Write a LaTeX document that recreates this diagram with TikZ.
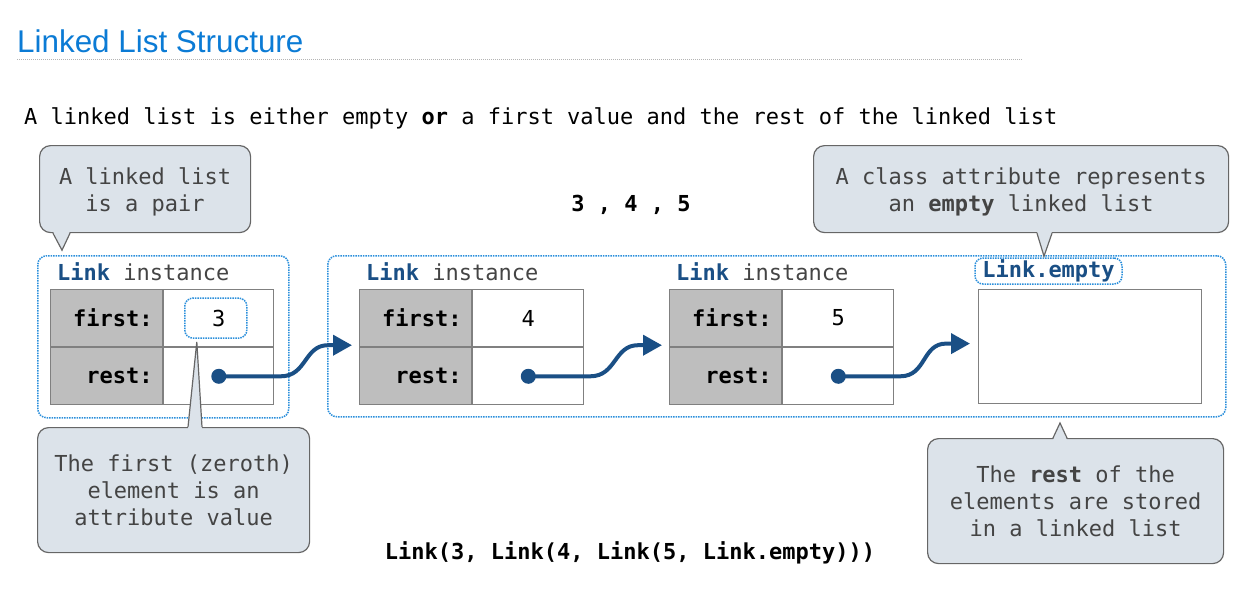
\documentclass[tikz,border=0pt]{standalone}
\usepackage{fontspec}
\setmainfont{Liberation Sans}
\setmonofont{DejaVu Sans Mono}
\usetikzlibrary{arrows.meta,calc}

\definecolor{titleblue}{HTML}{0B7BD5}
\definecolor{linkblue}{HTML}{1A4F85}
\definecolor{dotblue}{HTML}{2B8FDB}
\definecolor{calloutfill}{HTML}{DCE3EA}
\definecolor{calloutdraw}{HTML}{666666}
\definecolor{cellgray}{HTML}{BEBEBE}
\definecolor{cellline}{HTML}{808080}
\definecolor{notetext}{HTML}{444444}
\definecolor{rulegray}{HTML}{B4B4B4}

\newcommand\codesize{\ttfamily\fontsize{22}{27}\selectfont}

\tikzset{
  note/.style={draw=calloutdraw, fill=calloutfill, rounded corners=11pt,
    line width=1.2pt, inner sep=0pt, anchor=north west},
  notetxt/.style={align=center, font=\codesize, text=notetext, inner sep=0pt},
  frame/.style={draw=dotblue, densely dotted, line width=1.5pt,
    rounded corners=9pt, inner sep=0pt, anchor=north west},
  labcell/.style={draw=cellline, fill=cellgray, line width=1.2pt,
    minimum height=57pt, text width=92pt, inner xsep=10pt, inner ysep=0pt,
    align=right, font=\codesize\bfseries, anchor=north west},
  valcell/.style={draw=cellline, fill=white, line width=1.2pt,
    minimum height=57pt, minimum width=110pt, inner sep=0pt,
    font=\codesize, anchor=north west},
  dot/.style={circle, fill=linkblue, minimum size=15pt, inner sep=0pt},
  ptr/.style={draw=linkblue, line width=4pt,
    -{Triangle[length=19pt,width=20pt]}},
  tagline/.style={anchor=base west, font=\codesize, inner sep=0pt},
  pointer/.style={draw=calloutdraw, line width=1.2pt, line join=miter},
}

\begin{document}
\begin{tikzpicture}[x=1pt,y=-1pt]
\useasboundingbox (0,0) rectangle (1251,616);

% heading and rule
\node[anchor=base west, inner sep=0pt, text=titleblue,
  font=\fontsize{31.4}{36}\selectfont] (title) at (17,52) {Linked List Structure};
\draw[rulegray, densely dotted, line width=1pt] (17,59) -- (1022,59);

% definition sentence
\node[anchor=base west, inner sep=0pt, font=\codesize] (definition) at (24,124)
  {A linked list is either empty \textbf{or} a first value and the rest of the linked list};

% sequence and constructor expression
\node[font=\codesize\bfseries, inner sep=0pt] (seq) at (631,205) {3 , 4 , 5};
\node[font=\codesize\bfseries, inner sep=0pt] (expr) at (630,553)
  {Link(3, Link(4, Link(5, Link.empty)))};

% instance frames
\node[frame, minimum width=251pt, minimum height=162pt] (f1) at (37,255) {};
\node[frame, minimum width=898pt, minimum height=161pt] (f2) at (327,255) {};

% frame captions
\node[tagline] (cap1) at (57,280) {\textcolor{linkblue}{\bfseries Link} \textcolor{notetext}{instance}};
\node[tagline] (cap2) at (366,280) {\textcolor{linkblue}{\bfseries Link} \textcolor{notetext}{instance}};
\node[tagline] (cap3) at (676,280) {\textcolor{linkblue}{\bfseries Link} \textcolor{notetext}{instance}};
\node[draw=dotblue, densely dotted, line width=1.5pt, rounded corners=8pt,
  minimum width=147pt, minimum height=26pt, inner sep=0pt,
  font=\codesize\bfseries, text=linkblue] (emptytag) at (1048.5,271) {Link.empty};

% first Link instance
\node[labcell] (t1a) at (50,289) {first:};
\node[valcell] (t1b) at (t1a.north east) {3};
\node[labcell] (t1c) at (t1a.south west) {rest:};
\node[valcell] (t1d) at (t1c.north east) {};
\node[draw=dotblue, densely dotted, line width=1.5pt, rounded corners=8pt,
  minimum width=62pt, minimum height=40pt, inner sep=0pt] (v3) at ($(t1b.center)+(-3,0)$) {};

% second Link instance
\node[labcell] (t2a) at (359,289) {first:};
\node[valcell, minimum width=111pt] (t2b) at (t2a.north east) {4};
\node[labcell] (t2c) at (t2a.south west) {rest:};
\node[valcell, minimum width=111pt] (t2d) at (t2c.north east) {};

% third Link instance
\node[labcell] (t3a) at (669,289) {first:};
\node[valcell, minimum width=111pt] (t3b) at (t3a.north east) {5};
\node[labcell] (t3c) at (t3a.south west) {rest:};
\node[valcell, minimum width=111pt] (t3d) at (t3c.north east) {};

% the empty list
\node[draw=cellline, fill=white, line width=1.2pt, minimum width=223pt,
  minimum height=114pt, inner sep=0pt, anchor=north west] (emptybox) at (978,289) {};

% rest pointers
\node[dot] (d1) at (t1d.center) {};
\node[dot] (d2) at (t2d.center) {};
\node[dot] (d3) at (t3d.center) {};
\coordinate (in2) at ($(t2a.south west)+(-7,-2)$);
\coordinate (in3) at ($(t3a.south west)+(-7,-2)$);
\coordinate (in4) at ($(emptybox.west)+(-8,-3)$);
\draw[ptr] (d1.center) -- ++(62,0) .. controls +(26,0) and +(-24,0) .. ($(in2)+(-24,0)$) -- (in2);
\draw[ptr] (d2.center) -- ++(62,0) .. controls +(26,0) and +(-24,0) .. ($(in3)+(-24,0)$) -- (in3);
\draw[ptr] (d3.center) -- ++(62,0) .. controls +(26,0) and +(-24,0) .. ($(in4)+(-24,0)$) -- (in4);

% callout: a linked list is a pair
\node[note, minimum width=211pt, minimum height=87pt] (n1) at (39,145) {};
\fill[calloutfill] ($(n1.south west)+(14,-2)$) -- ($(n1.south west)+(23,17)$) -- ($(n1.south west)+(31,-2)$) -- cycle;
\draw[pointer] ($(n1.south west)+(14,0)$) -- ($(n1.south west)+(23,17)$) -- ($(n1.south west)+(31,0)$);
\node[notetxt] (n1t) at ($(n1.center)+(0,3)$) {A linked list\\is a pair};

% callout: the empty class attribute
\node[note, minimum width=415pt, minimum height=87pt] (n2) at (813,145) {};
\fill[calloutfill] ($(n2.south west)+(224,-2)$) -- ($(n2.south west)+(231,23)$) -- ($(n2.south west)+(239,-2)$) -- cycle;
\draw[pointer] ($(n2.south west)+(224,0)$) -- ($(n2.south west)+(231,23)$) -- ($(n2.south west)+(239,0)$);
\node[notetxt] (n2t) at ($(n2.center)+(0,3)$) {A class attribute represents\\an \textbf{empty} linked list};

% callout: the first element
\node[note, minimum width=272pt, minimum height=125pt] (n3) at (37,427) {};
\coordinate (n3tip) at ($(v3.south)+(-19,3)$);
\fill[calloutfill] ($(n3.north west)+(151,2)$) -- (n3tip) -- ($(n3.north west)+(165,2)$) -- cycle;
\draw[pointer] ($(n3.north west)+(151,0)$) -- (n3tip) -- ($(n3.north west)+(165,0)$);
\node[notetxt] (n3t) at (n3.center) {The first (zeroth)\\element is an\\attribute value};

% callout: the rest of the elements
\node[note, minimum width=296pt, minimum height=125pt] (n4) at (927,438) {};
\fill[calloutfill] ($(n4.north west)+(126,2)$) -- ($(n4.north west)+(133,-15)$) -- ($(n4.north west)+(140,2)$) -- cycle;
\draw[pointer] ($(n4.north west)+(126,0)$) -- ($(n4.north west)+(133,-15)$) -- ($(n4.north west)+(140,0)$);
\node[notetxt] (n4t) at (n4.center) {The \textbf{rest} of the\\elements are stored\\in a linked list};
\end{tikzpicture}
\end{document}
